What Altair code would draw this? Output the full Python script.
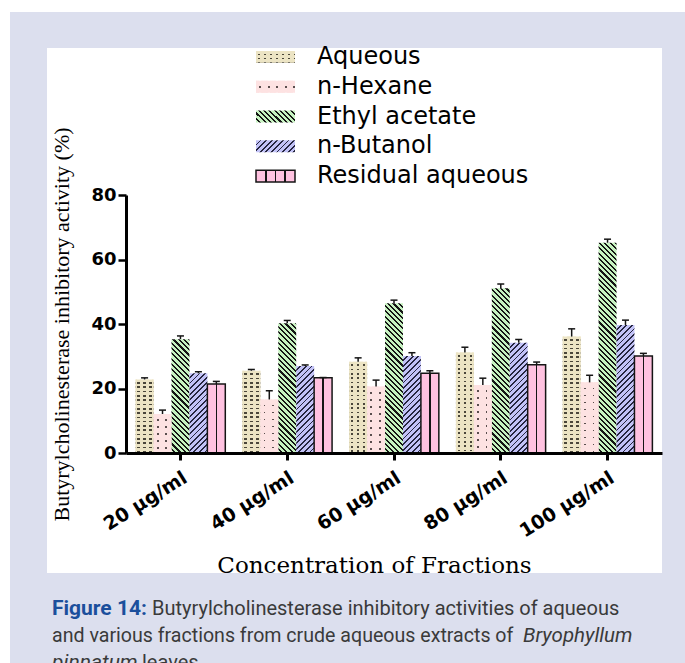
import altair as alt

# ---------------- data ----------------
CONCENTRATIONS = ["20 µg/ml", "40 µg/ml", "60 µg/ml", "80 µg/ml", "100 µg/ml"]
SERIES = ["Aqueous", "n-Hexane", "Ethyl acetate", "n-Butanol", "Residual aqueous"]
AQUEOUS = [22.8, 25.5, 28.3, 31.2, 36.1]
AQUEOUS_SEM = [0.5, 0.4, 1.2, 1.6, 2.4]
N_HEXANE = [12.1, 16.6, 20.6, 21.1, 21.9]
N_HEXANE_SEM = [1.2, 2.7, 2.0, 2.1, 2.2]
ETHYL_ACETATE = [35.3, 40.2, 46.4, 51.1, 65.2]
ETHYL_ACETATE_SEM = [1.0, 0.9, 1.0, 1.3, 1.1]
N_BUTANOL = [24.7, 27.0, 30.1, 34.2, 39.7]
N_BUTANOL_SEM = [0.5, 0.3, 1.0, 1.0, 1.5]
RESIDUAL = [21.4, 23.3, 24.7, 27.4, 30.1]
RESIDUAL_SEM = [0.8, 0.1, 0.8, 0.8, 0.8]
Y_TICKS = [0, 20, 40, 60, 80]
Y_TITLE = "Butyrylcholinesterase inhibitory activity (%)"
X_TITLE = "Concentration of Fractions"
CAPTION_LABEL = "Figure 14:"
CAPTION_1 = "Butyrylcholinesterase inhibitory activities of aqueous"
CAPTION_2 = "and various fractions from crude aqueous extracts of"
CAPTION_2_ITALIC = "Bryophyllum"
CAPTION_3_ITALIC = "pinnatum"
CAPTION_3 = "leaves"

VALUES = dict(zip(SERIES, [AQUEOUS, N_HEXANE, ETHYL_ACETATE, N_BUTANOL, RESIDUAL]))
SEMS = dict(zip(SERIES, [AQUEOUS_SEM, N_HEXANE_SEM, ETHYL_ACETATE_SEM, N_BUTANOL_SEM, RESIDUAL_SEM]))

# ---------------- layout / style ----------------
PLOT_W, PLOT_H = 536, 258
Y_MAX = 80
PAD = {"left": 126, "top": 195, "right": 685 - 126 - PLOT_W, "bottom": 663 - 195 - PLOT_H}
X_PAD_INNER, X_PAD_OUTER = 0.16, 0.09
STEP = PLOT_W / (len(CONCENTRATIONS) - X_PAD_INNER + 2 * X_PAD_OUTER)
BAR_W = STEP * (1 - X_PAD_INNER) / len(SERIES)
PX_PER_UNIT = PLOT_H / Y_MAX
SWATCH_W, SWATCH_H = 39, 12

LAVENDER = "#dcdfee"
INK = "#151515"

STYLE = {
    "Aqueous": dict(kind="dots", bg="#ece4c4", ink="#4a463a", row=4.3, ink_h=1.6, col=6.0, win=2.6),
    "n-Hexane": dict(kind="dots", bg="#fde2e2", ink="#5a4e4e", row=7.0, ink_h=1.5, col=8.5, win=1.7),
    "Ethyl acetate": dict(kind="back", bg="#c6f2c0", ink=INK, period=5.3, ink_w=2.1),
    "n-Butanol": dict(kind="fwd", bg="#c2c2f7", ink="#262640", period=5.6, ink_w=1.8),
    "Residual aqueous": dict(kind="vline", bg="#ffc2e0", ink=INK),
}


def _stops(length, period, start, stop, ink, bg):
    out = []
    s = 0.0
    while s < length - 1e-9:
        for p, c in [(s, bg), (s + start, bg), (s + start, ink), (s + stop, ink), (s + stop, bg), (s + period, bg)]:
            out.append({"offset": round(min(p / length, 1.0), 5), "color": c})
        s += period
    return out


def pattern_fill(series, w, h, panes):
    st = STYLE[series]
    h = max(h, 1.0)
    if st["kind"] == "dots":
        stops = _stops(h, st["row"], st["row"] - st["ink_h"], st["row"], st["ink"], st["bg"])
        return {"gradient": "linear", "x1": 0, "y1": 0, "x2": 0.00001, "y2": 1, "stops": stops}
    if st["kind"] in ("back", "fwd"):
        L = w + h
        k = L / (w * w + h * h)
        stops = _stops(L, st["period"], st["period"] - st["ink_w"], st["period"], st["ink"], st["bg"])
        if st["kind"] == "back":
            return {"gradient": "linear", "x1": 0, "y1": 1, "x2": k * w, "y2": 1 - k * h, "stops": stops}
        return {"gradient": "linear", "x1": 0, "y1": 0, "x2": k * w, "y2": k * h, "stops": stops}
    lw = 1.6
    stops = [{"offset": 0, "color": st["bg"]}]
    for i in range(1, panes):
        c = i * w / panes
        a, b = (c - lw / 2) / w, (c + lw / 2) / w
        stops += [{"offset": a, "color": st["bg"]}, {"offset": a, "color": st["ink"]},
                  {"offset": b, "color": st["ink"]}, {"offset": b, "color": st["bg"]}]
    stops.append({"offset": 1, "color": st["bg"]})
    return {"gradient": "linear", "x1": 0, "y1": 0, "x2": 1, "y2": 0, "stops": stops}


def pattern_mask(series, w):
    st = STYLE[series]
    if st["kind"] != "dots":
        return None
    stops = _stops(w, st["col"], (st["col"] - st["win"]) / 2, (st["col"] + st["win"]) / 2, "transparent", st["bg"])
    return {"gradient": "linear", "x1": 0, "y1": 0, "x2": 1, "y2": 0, "stops": stops}


records = []
for s in SERIES:
    for ci, c in enumerate(CONCENTRATIONS):
        v = VALUES[s][ci]
        rec = {"conc": c, "series": s, "value": v, "top": v + SEMS[s][ci],
               "pat": pattern_fill(s, BAR_W, v * PX_PER_UNIT, 2)}
        m = pattern_mask(s, BAR_W)
        if m:
            rec["msk"] = m
        records.append(rec)

legend_records = []
for s in SERIES:
    rec = {"series": s, "pat": pattern_fill(s, SWATCH_W, SWATCH_H, 4)}
    m = pattern_mask(s, SWATCH_W)
    if m:
        rec["msk"] = m
    legend_records.append(rec)

# ---------------- main chart ----------------
base = alt.Chart(alt.Data(values=records))

x_enc = alt.X(
    "conc:N", sort=CONCENTRATIONS,
    scale=alt.Scale(paddingInner=X_PAD_INNER, paddingOuter=X_PAD_OUTER),
    axis=alt.Axis(
        title=X_TITLE, titleFont="DejaVu Serif", titleFontSize=23, titleFontWeight="normal",
        titleColor="black", titleX=248, titleY=119, titleAlign="center", titleBaseline="alphabetic",
        labelAngle=-32, labelAlign="right", labelBaseline="top", labelFont="DejaVu Sans",
        labelFontWeight="bold", labelFontSize=19, labelColor="black", labelPadding=8,
        domainColor="black", domainWidth=3, tickColor="black", tickWidth=3, tickSize=7,
        zindex=1,
    ),
)
x_off = alt.XOffset("series:N", sort=SERIES, scale=alt.Scale(paddingInner=0, paddingOuter=0))
y_enc = alt.Y(
    "value:Q", scale=alt.Scale(domain=[0, Y_MAX], nice=False),
    axis=alt.Axis(
        values=Y_TICKS, title=Y_TITLE, titleFont="Liberation Serif", titleFontSize=22,
        titleFontWeight="normal", titleColor="black", titlePadding=17,
        labelFont="DejaVu Sans", labelFontWeight="bold", labelFontSize=18, labelColor="black",
        labelPadding=2, domainColor="black", domainWidth=3, tickColor="black", tickWidth=2.5,
        tickSize=8, grid=False, zindex=1,
    ),
)

outline = alt.condition("datum.series === 'Residual aqueous'", alt.value(INK), alt.value("transparent"))

bars = base.mark_bar(opacity=1, strokeWidth=1.5).encode(
    x=x_enc, xOffset=x_off, y=y_enc,
    fill=alt.Fill("pat:N", scale=None),
    stroke=outline,
)
masks = base.transform_filter("isValid(datum.msk)").mark_bar(opacity=1).encode(
    x=x_enc, xOffset=x_off, y=alt.Y("value:Q"),
    fill=alt.Fill("msk:N", scale=None),
)
err_rule = base.mark_rule(color=INK, strokeWidth=1.5).encode(
    x=x_enc, xOffset=x_off, y=alt.Y("value:Q"), y2="top:Q"
)
err_cap = base.mark_tick(color=INK, orient="horizontal", size=7, thickness=1.5, opacity=1).encode(
    x=x_enc, xOffset=x_off, y=alt.Y("top:Q")
)
main = alt.layer(bars, masks, err_rule, err_cap)

# ---------------- legend (drawn with its own band scale) ----------------
leg_base = alt.Chart(alt.Data(values=legend_records))
ly = alt.Y("series:N", sort=SERIES,
           scale=alt.Scale(domain=SERIES, range=[-153, -4], paddingInner=0.6, paddingOuter=0.3),
           axis=None)
leg_sw = leg_base.mark_rect(opacity=1, strokeWidth=1.5).encode(
    x=alt.value(130), x2=alt.value(130 + SWATCH_W), y=ly,
    fill=alt.Fill("pat:N", scale=None), stroke=outline,
)
leg_mask = leg_base.transform_filter("isValid(datum.msk)").mark_rect(opacity=1).encode(
    x=alt.value(130), x2=alt.value(130 + SWATCH_W), y=ly,
    fill=alt.Fill("msk:N", scale=None),
)
leg_text = leg_base.mark_text(align="left", baseline="middle", font="DejaVu Sans", fontSize=24,
                              color="black").encode(x=alt.value(191), y=ly, text="series:N")
legend = alt.layer(leg_sw, leg_mask, leg_text)

# ---------------- page decoration and caption ----------------
one = alt.Data(values=[{"k": 0}])
lavender = alt.Chart(one).mark_rect(color=LAVENDER).encode(
    x=alt.value(10 - PAD["left"]), x2=alt.value(685 - PAD["left"]),
    y=alt.value(12 - PAD["top"]), y2=alt.value(663 - PAD["top"]))
panel = alt.Chart(one).mark_rect(color="white").encode(
    x=alt.value(47 - PAD["left"]), x2=alt.value(662 - PAD["left"]),
    y=alt.value(48 - PAD["top"]), y2=alt.value(573 - PAD["top"]))


def caption(text, x, y, weight="normal", style="normal", color="#3a3a3a", size=20):
    return alt.Chart(one).mark_text(
        align="left", baseline="alphabetic", font="Roboto", fontSize=size,
        fontWeight=weight, fontStyle=style, color=color,
    ).encode(x=alt.value(x - PAD["left"]), y=alt.value(y - PAD["top"]), text=alt.value(text))


captions = [
    caption(CAPTION_LABEL, 52, 615, weight="bold", color="#1b4f9c", size=21),
    caption(CAPTION_1, 152, 615),
    caption(CAPTION_2, 52, 642, size=19.6),
    caption(CAPTION_2_ITALIC, 523, 642, style="italic", size=20.5),
    caption(CAPTION_3_ITALIC, 52, 669, style="italic", size=21),
    caption(CAPTION_3, 142, 669),
]

chart = alt.layer(lavender, panel, main, legend, *captions).resolve_scale(
    y="independent"
).properties(
    width=PLOT_W, height=PLOT_H, padding=PAD,
    autosize=alt.AutoSizeParams(type="none"),
    background="white",
).configure_view(strokeWidth=0)

chart.save("out.html", embed_options={"renderer": "svg", "actions": False})
